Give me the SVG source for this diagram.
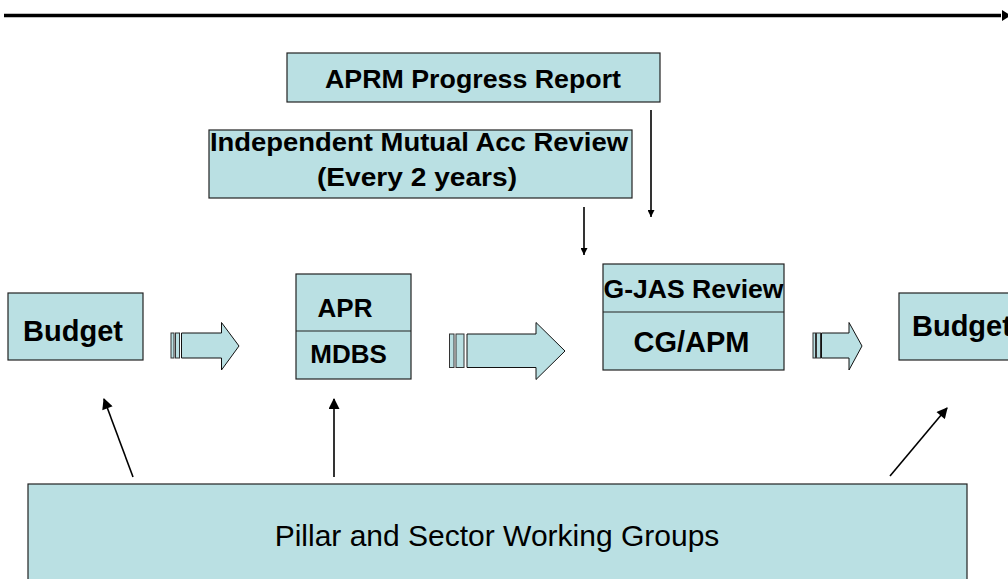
<svg xmlns="http://www.w3.org/2000/svg" width="1008" height="579" viewBox="0 0 1008 579">
<style>
.box{fill:#BAE0E3;stroke:#222;stroke-width:1.2}
.blk{fill:#BAE0E3;stroke:#111;stroke-width:1}
.stripe{fill:#BAE0E3;stroke:#333;stroke-width:1}
.t{font-family:"Liberation Sans",Arial,sans-serif;font-weight:bold;fill:#000}
.n{font-family:"Liberation Sans",Arial,sans-serif;fill:#000}
.c{stroke:#000;stroke-width:1.6;fill:none}
</style>
<defs>
<marker id="ah" viewBox="0 0 10 10" refX="10" refY="5" markerWidth="7" markerHeight="7" orient="auto" markerUnits="userSpaceOnUse">
<path d="M0,0 L10,5 L0,10 Z" fill="#000"/>
</marker>
<marker id="ah2" viewBox="0 0 10 10" refX="9" refY="5" markerWidth="12" markerHeight="11" orient="auto" markerUnits="userSpaceOnUse">
<path d="M0,0 L10,5 L0,10 Z" fill="#000"/>
</marker>
</defs>

<g id="connectors">
<line x1="4" y1="15.5" x2="1001" y2="15.5" stroke="#000" stroke-width="3.5"/>
<polygon points="1002,10 1011,15.5 1002,21" fill="#000"/>
<line class="c" x1="651" y1="110" x2="651" y2="217" marker-end="url(#ah)"/>
<line class="c" x1="584" y1="207" x2="584" y2="255" marker-end="url(#ah)"/>
<line class="c" x1="133" y1="477" x2="104" y2="399" marker-end="url(#ah2)"/>
<line class="c" x1="334" y1="477" x2="334" y2="399" marker-end="url(#ah2)"/>
<line class="c" x1="890" y1="476" x2="947" y2="408" marker-end="url(#ah2)"/>
<g id="blockarrow1">
<rect class="stripe" x="171" y="333" width="3" height="25"/>
<rect class="stripe" x="175.5" y="333" width="4" height="25"/>
<polygon class="blk" points="181.5,333 221.5,333 221.5,322.5 239,346 221.5,370 221.5,358 181.5,358"/>
</g>
<g id="blockarrow2">
<rect class="stripe" x="449.5" y="334" width="4.5" height="33.5"/>
<rect class="stripe" x="456" y="334" width="8" height="33.5"/>
<polygon class="blk" points="467,334 536,334 536,322.5 565,351 536,379.5 536,367.5 467,367.5"/>
</g>
<g id="blockarrow3">
<rect class="stripe" x="813" y="333" width="2.5" height="25"/>
<rect class="stripe" x="816.5" y="333" width="4" height="25"/>
<polygon class="blk" points="821.5,333 849,333 849,322.5 862,346 849,370 849,358 821.5,358"/>
</g>
</g>

<g id="aprm">
<rect class="box" x="287" y="53" width="373" height="49"/>
<text class="t" x="473" y="88" font-size="26" text-anchor="middle" textLength="296" lengthAdjust="spacingAndGlyphs">APRM Progress Report</text>
</g>

<g id="imar">
<rect class="box" x="209" y="130" width="423" height="68"/>
<text class="t" x="419" y="151" font-size="26" text-anchor="middle" textLength="418" lengthAdjust="spacingAndGlyphs">Independent Mutual Acc Review</text>
<text class="t" x="417" y="186" font-size="26" text-anchor="middle" textLength="200" lengthAdjust="spacingAndGlyphs">(Every 2 years)</text>
</g>

<g id="budget-left">
<rect class="box" x="8" y="293" width="135" height="67"/>
<text class="t" x="73" y="341" font-size="29" text-anchor="middle">Budget</text>
</g>

<g id="apr-mdbs">
<rect class="box" x="296" y="274" width="115" height="105"/>
<line x1="296" y1="331" x2="411" y2="331" stroke="#222" stroke-width="1.2"/>
<text class="t" x="345" y="317" font-size="26" text-anchor="middle">APR</text>
<text class="t" x="348.5" y="363" font-size="26" text-anchor="middle">MDBS</text>
</g>

<g id="gjas">
<rect class="box" x="603" y="264" width="181" height="106"/>
<line x1="603" y1="312" x2="784" y2="312" stroke="#222" stroke-width="1.2"/>
<text class="t" x="693.5" y="298" font-size="26" text-anchor="middle" textLength="180" lengthAdjust="spacingAndGlyphs">G-JAS Review</text>
<text class="t" x="691.5" y="352" font-size="29" text-anchor="middle">CG/APM</text>
</g>

<g id="budget-right">
<rect class="box" x="899" y="293" width="130" height="67"/>
<text class="t" x="912" y="336" font-size="29">Budget</text>
</g>

<g id="pswg">
<rect class="box" x="28" y="484" width="939" height="110"/>
<text class="n" x="497" y="546" font-size="30" text-anchor="middle">Pillar and Sector Working Groups</text>
</g>
</svg>
